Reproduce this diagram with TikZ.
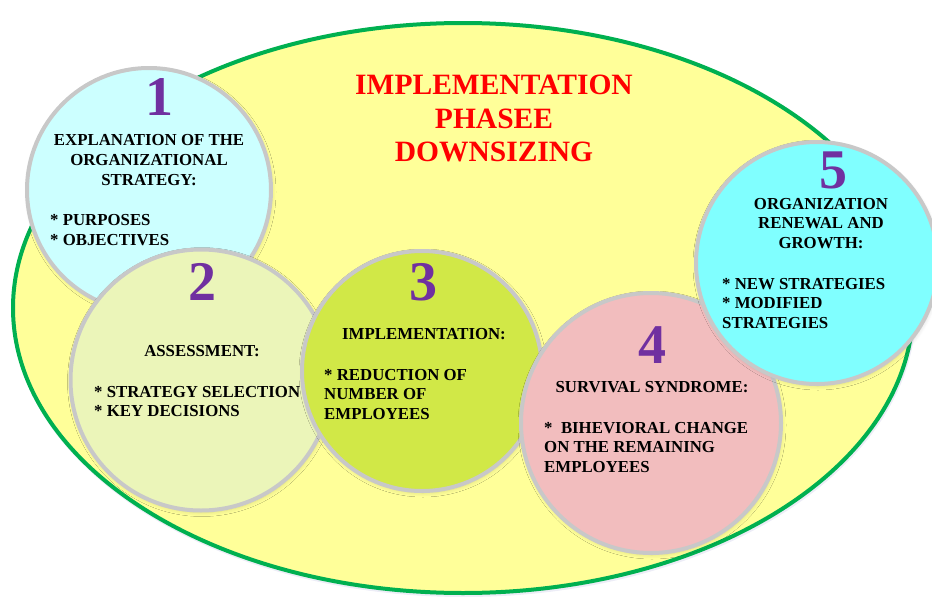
\documentclass[tikz,border=0pt]{standalone}
\usepackage{fontspec}
\setmainfont{Liberation Serif}
\usetikzlibrary{shadows.blur}
\definecolor{ellfill}{HTML}{FFFF99}
\definecolor{ellline}{HTML}{00B050}
\definecolor{ringgray}{HTML}{C8C8C8}
\definecolor{numpurple}{HTML}{7030A0}
\definecolor{cone}{HTML}{CCFFFF}
\definecolor{ctwo}{HTML}{EBF5B9}
\definecolor{cthree}{HTML}{D1E847}
\definecolor{cfour}{HTML}{F2BDBE}
\definecolor{cfive}{HTML}{80FFFF}
\tikzset{
  bubble/.style={circle, draw=ringgray, line width=4pt, inner sep=0pt, outer sep=0pt,
    blur shadow={shadow xshift=1pt, shadow yshift=-2pt, shadow blur steps=8, shadow blur radius=4pt, shadow opacity=14}},
  numtxt/.style={anchor=base, inner sep=0pt, text=numpurple, font=\fontsize{56}{60}\selectfont\bfseries},
  headtxt/.style={anchor=base, inner sep=0pt, font=\fontsize{16.8}{19.7}\selectfont\bfseries},
  listtxt/.style={anchor=base west, inner sep=0pt, font=\fontsize{16.8}{19.7}\selectfont\bfseries},
  titletxt/.style={anchor=base, inner sep=0pt, text=red, font=\fontsize{29.5}{33.7}\selectfont\bfseries},
}
\begin{document}
\begin{tikzpicture}[x=1pt, y=-1pt]
\useasboundingbox (0,0) rectangle (932,597);
% big ellipse
\fill[blue!40!gray, opacity=0.10] (464,310) ellipse [x radius=452pt, y radius=287pt];
\draw[draw=ellline, fill=ellfill, line width=4pt] (463,308) ellipse [x radius=450pt, y radius=285pt];
% title
\node[titletxt] (title) at (494,94.3) {\begin{tabular}[t]{@{}c@{}}IMPLEMENTATION\\PHASEE\\DOWNSIZING\end{tabular}};
% circle 1
\node[bubble, fill=cone, minimum size=244pt] (c1) at (149,190) {};
\node[numtxt] (n1) at (159,115) {1};
\node[headtxt] (h1) at (149,145.7) {\begin{tabular}[t]{@{}c@{}}EXPLANATION OF THE\\ORGANIZATIONAL\\STRATEGY:\end{tabular}};
\node[listtxt] (l1) at (50,225.7) {\begin{tabular}[t]{@{}l@{}}* PURPOSES\\{}* OBJECTIVES\end{tabular}};
% circle 2
\node[bubble, fill=ctwo, minimum size=261pt] (c2) at (201,380) {};
\node[numtxt] (n2) at (202,300) {2};
\node[headtxt] (h2) at (202,356) {ASSESSMENT:};
\node[listtxt] (l2) at (94,397) {\begin{tabular}[t]{@{}l@{}}* STRATEGY SELECTION\\{}* KEY DECISIONS\end{tabular}};
% circle 3
\node[bubble, fill=cthree, minimum size=240pt] (c3) at (422,371) {};
\node[numtxt] (n3) at (423,300) {3};
\node[headtxt] (h3) at (424,339) {IMPLEMENTATION:};
\node[listtxt] (l3) at (324,380) {\begin{tabular}[t]{@{}l@{}}* REDUCTION OF\\NUMBER OF\\EMPLOYEES\end{tabular}};
% circle 4
\node[bubble, fill=cfour, minimum size=260pt] (c4) at (651,423) {};
\node[numtxt] (n4) at (652,363) {4};
\node[headtxt] (h4) at (652,392) {SURVIVAL SYNDROME:};
\node[listtxt] (l4) at (544,433) {\begin{tabular}[t]{@{}l@{}}* ~BIHEVIORAL CHANGE\\ON THE REMAINING\\EMPLOYEES\end{tabular}};
% circle 5
\node[bubble, fill=cfive, minimum size=242pt] (c5) at (817,263) {};
\node[numtxt] (n5) at (833,188) {5};
\node[headtxt] (h5) at (821,209) {\begin{tabular}[t]{@{}c@{}}ORGANIZATION\\RENEWAL AND\\GROWTH:\end{tabular}};
\node[listtxt] (l5) at (722,289) {\begin{tabular}[t]{@{}l@{}}* NEW STRATEGIES\\{}* MODIFIED\\STRATEGIES\end{tabular}};
\end{tikzpicture}
\end{document}
